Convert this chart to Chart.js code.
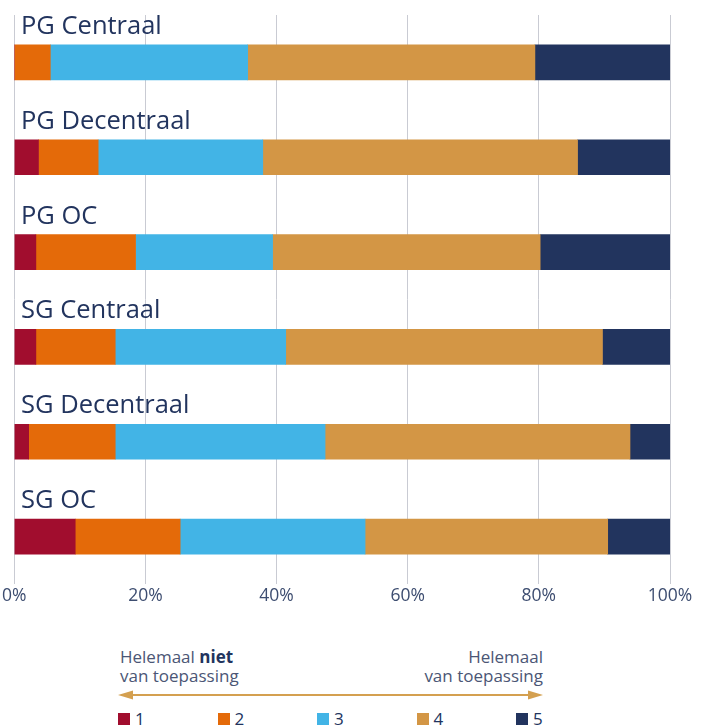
<!DOCTYPE html>
<html>
<head>
<meta charset="utf-8">
<script src="https://cdn.jsdelivr.net/npm/chart.js@4.4.1/dist/chart.umd.min.js"></script>
<style>
  body { margin: 0; width: 706px; height: 728px; background: #fff; position: relative; overflow: hidden; font-family: "Open Sans", sans-serif; }
  #wrap { position: absolute; left: 0; top: 0; width: 706px; height: 615px; }
  .note { position: absolute; top: 647px; font-size: 17px; line-height: 19px; color: #4b5675; }
  .note b { color: #22345e; }
  #arrow { position: absolute; left: 118px; top: 688px; }
  #legend { position: absolute; left: 118px; top: 707px; display: flex; }
  #legend div { width: 99.5px; display: flex; align-items: center; font-size: 17px; color: #22345e; }
  #legend span { display: inline-block; width: 12px; height: 12px; margin-right: 5px; }
</style>
</head>
<body>
<div id="wrap"><canvas id="chart"></canvas></div>
<div class="note" style="left:120px">Helemaal <b>niet</b><br>van toepassing</div>
<div class="note" style="left:400px;width:143px;text-align:right">Helemaal<br>van toepassing</div>
<svg id="arrow" width="430" height="14">
  <line x1="10" y1="7" x2="415" y2="7" stroke="#d4a050" stroke-width="2"/>
  <polygon points="0,7 15,2.5 15,11.5" fill="#d4a050"/>
  <polygon points="425,7 410,2.5 410,11.5" fill="#d4a050"/>
</svg>
<div id="legend"></div>
<script>
const categories = ['PG Centraal', 'PG Decentraal', 'PG OC', 'SG Centraal', 'SG Decentraal', 'SG OC'];
const seriesNames = ['1', '2', '3', '4', '5'];
const colors = ['#a10d2e', '#e46a09', '#42b4e6', '#d39645', '#22345e'];
const score1 = [0, 3.7, 3.3, 3.3, 2.2, 9.3];
const score2 = [5.5, 9.1, 15.2, 12.1, 13.2, 16.0];
const score3 = [30.1, 25.1, 20.9, 26.0, 32.0, 28.2];
const score4 = [43.8, 48.0, 40.8, 48.3, 46.5, 37.0];
const score5 = [20.6, 14.1, 19.8, 10.3, 6.1, 9.5];
const xTicks = [0, 20, 40, 60, 80, 100];

const allScores = [score1, score2, score3, score4, score5];

// category names sit above each bar, not beside it
const barLabels = {
  id: 'barLabels',
  afterDatasetsDraw(chart) {
    const ctx = chart.ctx;
    const y = chart.scales.y;
    ctx.save();
    ctx.font = '25.5px "Open Sans"';
    ctx.fillStyle = '#22345e';
    ctx.textBaseline = 'alphabetic';
    categories.forEach((c, i) => {
      ctx.fillText(c, 21, y.getPixelForValue(i) - 28.5);
    });
    ctx.restore();
  }
};

new Chart(document.getElementById('chart'), {
  type: 'bar',
  data: {
    labels: categories,
    datasets: allScores.map((s, i) => ({
      label: seriesNames[i],
      data: s,
      backgroundColor: colors[i],
      borderWidth: 0,
      barThickness: 35
    }))
  },
  options: {
    indexAxis: 'y',
    responsive: true,
    maintainAspectRatio: false,
    animation: false,
    layout: { padding: { top: 15, bottom: 6, right: 36, left: 0 } },
    scales: {
      x: {
        stacked: true,
        min: 0,
        max: 100,
        afterBuildTicks: s => { s.ticks = xTicks.map(v => ({ value: v })); },
        ticks: {
          callback: v => v + '%',
          font: { family: 'Open Sans', size: 17.5 },
          color: '#3d4d70',
          padding: 2,
          maxRotation: 0
        },
        grid: { color: '#c9cbd3', drawTicks: false },
        border: { display: false }
      },
      y: {
        stacked: true,
        display: false
      }
    },
    plugins: {
      legend: { display: false },
      tooltip: { enabled: false }
    }
  },
  plugins: [barLabels]
});

const legend = document.getElementById('legend');
seriesNames.forEach((n, i) => {
  const item = document.createElement('div');
  item.innerHTML = '<span style="background:' + colors[i] + '"></span>' + n;
  legend.appendChild(item);
});
</script>
</body>
</html>
